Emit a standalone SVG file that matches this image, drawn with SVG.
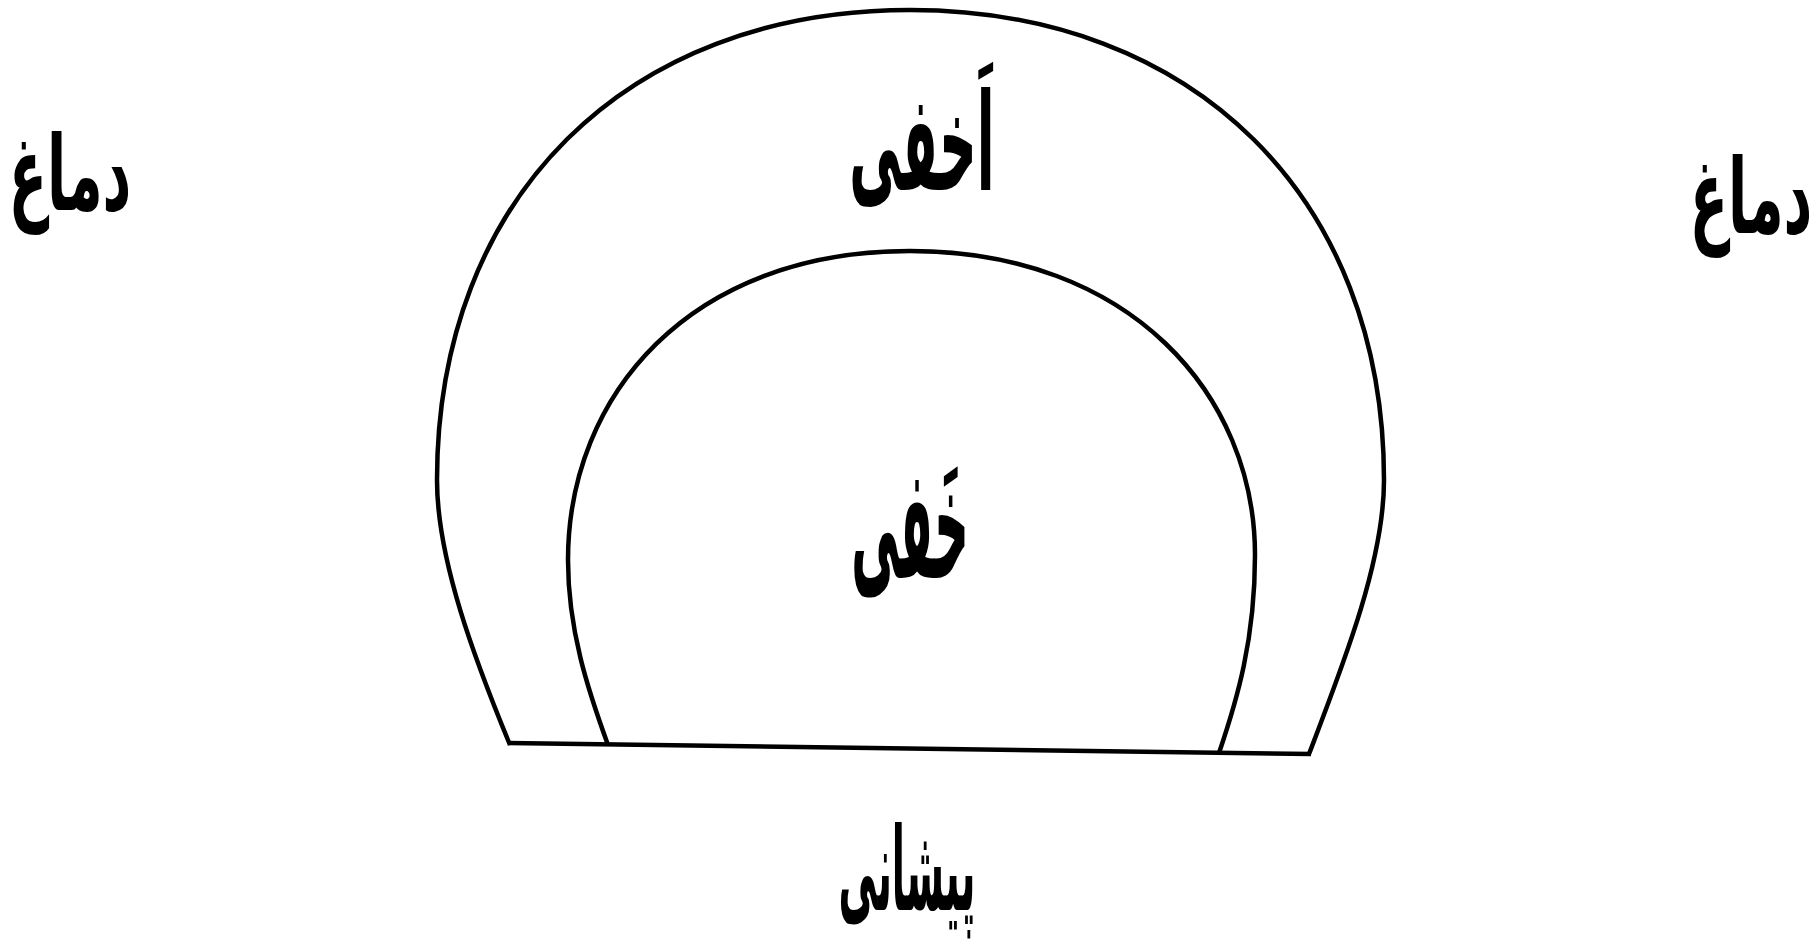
<svg xmlns="http://www.w3.org/2000/svg" width="1817" height="949" viewBox="0 0 1817 949">
<style>
.ln{fill:none;stroke:#000;stroke-width:4.5;stroke-linejoin:miter;stroke-linecap:butt}
.t{font-family:"DejaVu Sans","Noto Sans",sans-serif;fill:#000;text-anchor:middle;font-weight:bold}
</style>
<rect width="1817" height="949" fill="#fff"/>
<g id="outer">
<path class="ln" d="M510,745 C475,660 437,560 437,480 C437,198 626,10 910,10 C1194,10 1384,198 1384,480 C1384,560 1345,660 1309,754"/>
<text class="t" font-size="80" direction="rtl" transform="translate(922,190) scale(0.65,1.7)">اَخفی</text>
</g>
<g id="inner">
<path class="ln" d="M608,745 C588,690 568,630 568,560 C568,395 690,251 910,251 C1130,251 1255,395 1255,555 C1255,640 1237,700 1219,753"/>
<text class="t" font-size="80" direction="rtl" transform="translate(910,578) scale(0.6,1.95)">خَفی</text>
</g>
<g id="base">
<path class="ln" d="M508,743 L1311,754"/>
</g>
<g id="labels">
<text class="t" font-size="80" direction="rtl" transform="translate(70,210) scale(0.7,1.3)">دماغ</text>
<text class="t" font-size="80" direction="rtl" transform="translate(1751,233) scale(0.7,1.3)">دماغ</text>
<text class="t" font-size="80" direction="rtl" transform="translate(907,910) scale(0.48,1.45)">پیشانی</text>
</g>
</svg>
